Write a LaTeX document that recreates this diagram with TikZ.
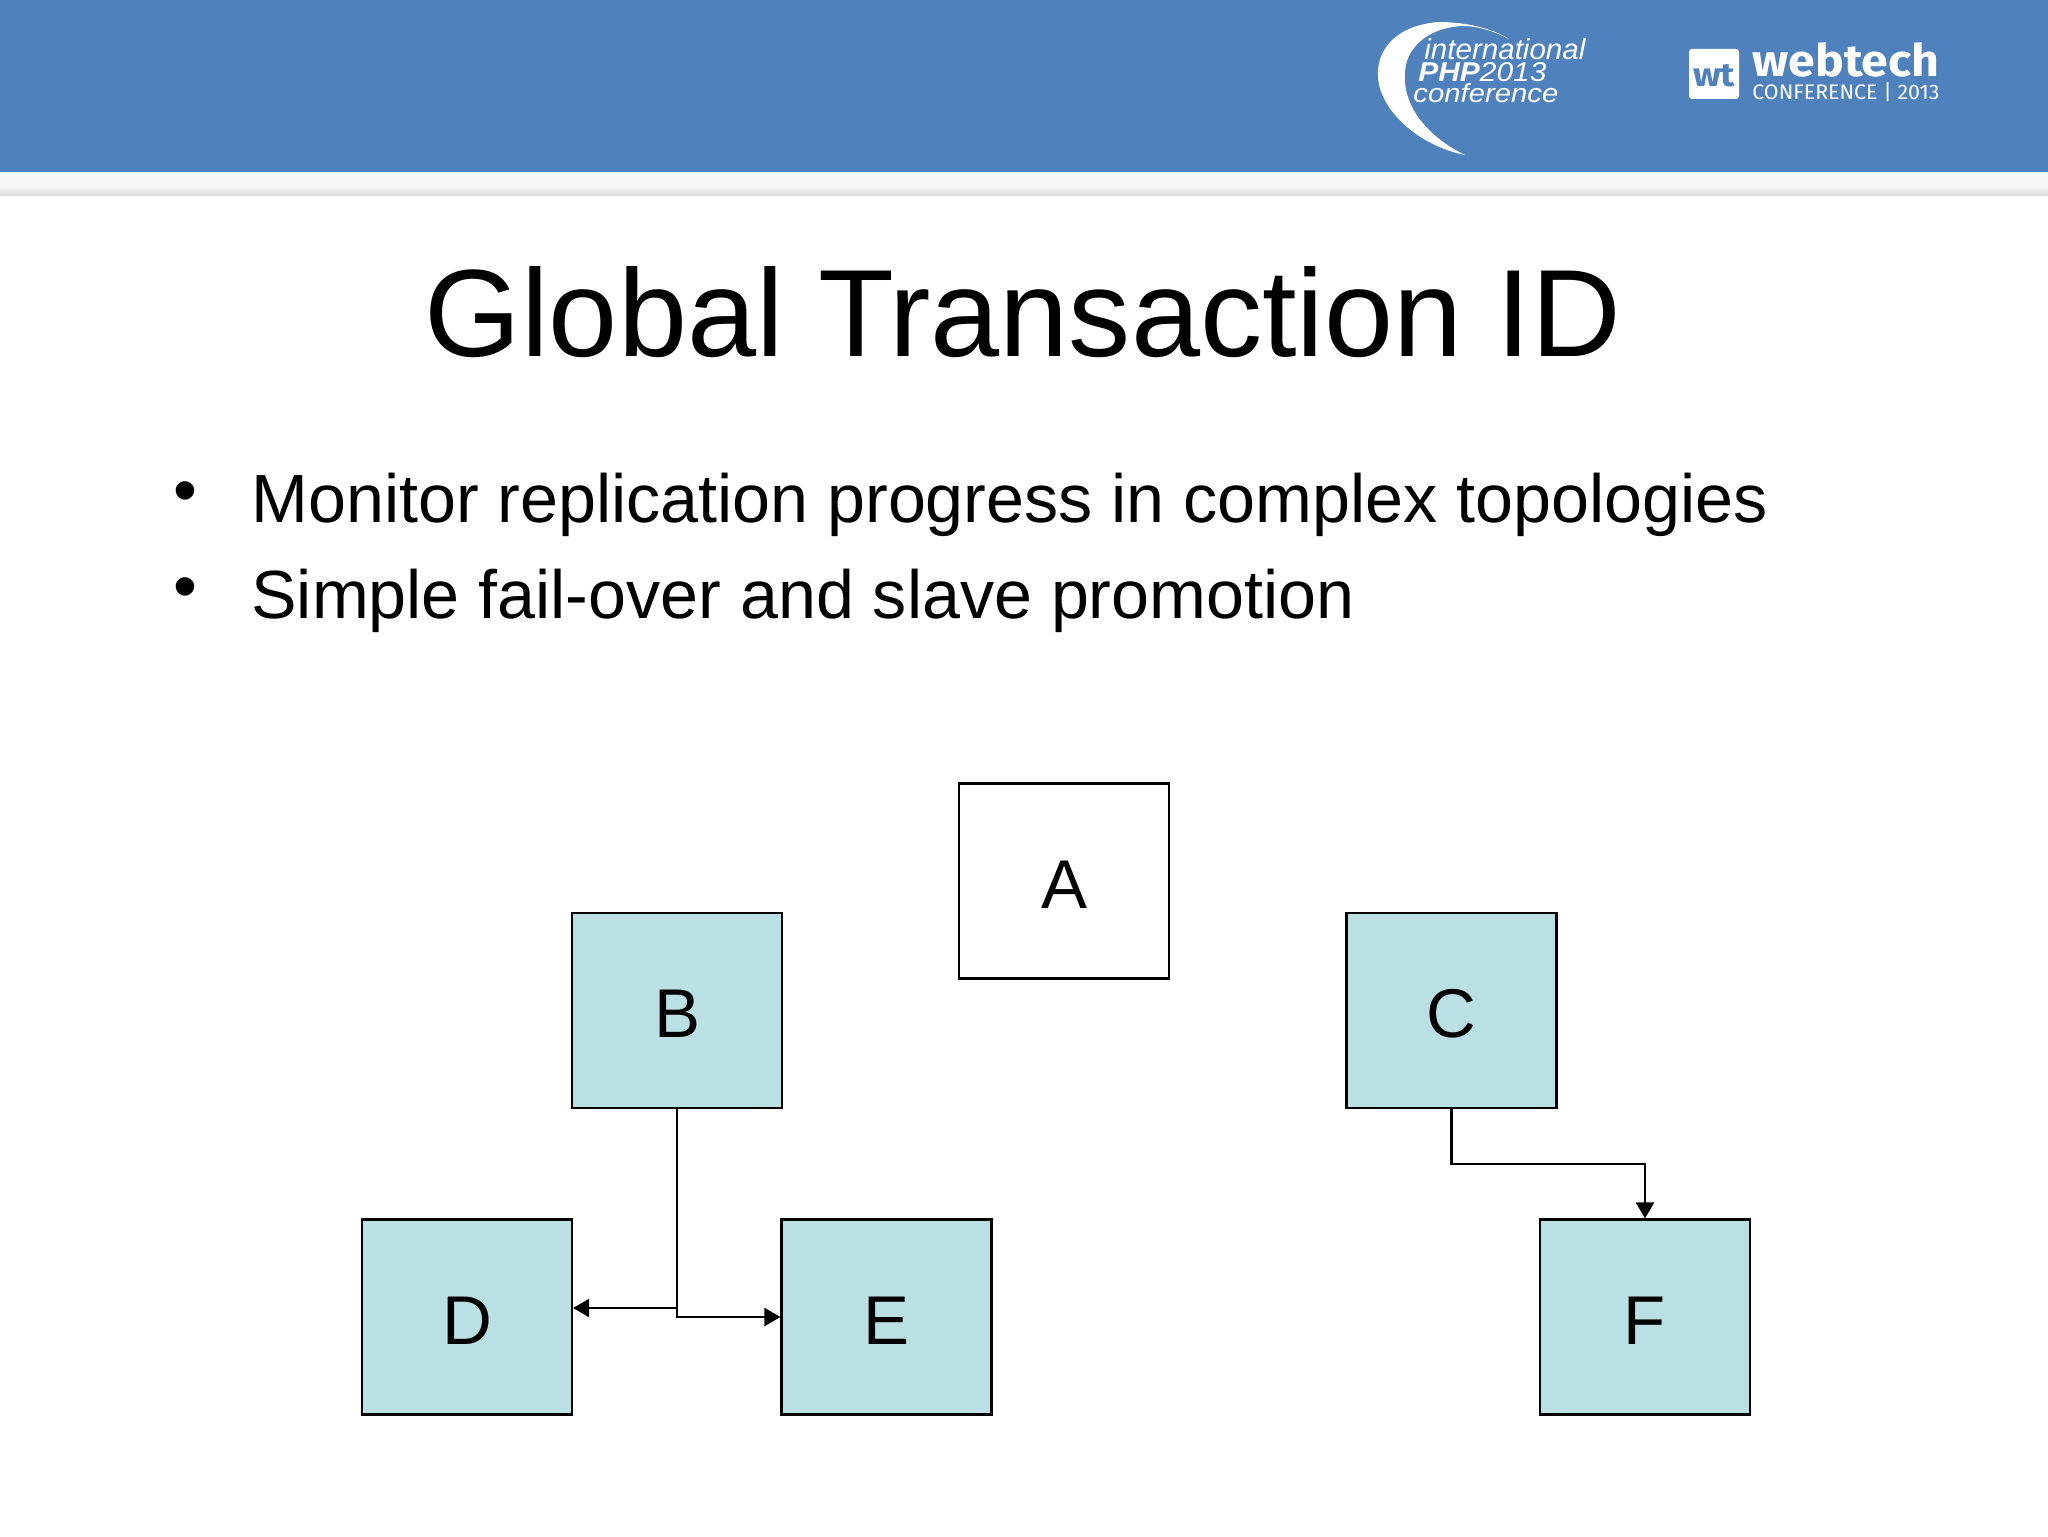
\documentclass[tikz,border=0pt]{standalone}
\usepackage{fontspec}
\setmainfont{Liberation Sans}
\newfontfamily\firafont{Fira Sans}
\usetikzlibrary{arrows.meta,calc}
\definecolor{bandblue}{HTML}{4F81BD}
\definecolor{boxteal}{HTML}{BBE0E3}
\tikzset{
    box/.style={draw=black,line width=1.05pt,fill=boxteal,minimum width=105pt,minimum height=97.5pt,
        inner sep=0pt,font=\fontsize{34.5}{34.5}\selectfont,text height=27pt,text depth=0pt},
    link/.style={line width=1.05pt,-{Triangle[length=8pt,width=9pt]}},
    logotext/.style={text=white,inner sep=0pt,anchor=base west},
    bullettext/.style={inner sep=0pt,anchor=base west,font=\fontsize{34.1}{34.1}\selectfont},
}
\begin{document}
\begin{tikzpicture}[x=0.5pt,y=-0.5pt]
    \useasboundingbox (0,0) rectangle (2048,1536);
    \fill[white] (0,0) rectangle (2048,1536);
    % header band
    \fill[white!97!black] (0,172) rectangle (2048,186);
    \shade[top color=white!97!black,bottom color=white!87!black] (0,186) rectangle (2048,195);
    \fill[bandblue] (0,0) rectangle (2048,172);
    % php logo
    \fill[white] (1509,39) .. controls (1495,30) and (1470,22) .. (1438,22)
        .. controls (1395,26) and (1376,50) .. (1378,78)
        .. controls (1381,112) and (1420,146) .. (1465,155)
        .. controls (1430,138) and (1402,108) .. (1405,72)
        .. controls (1406,50) and (1425,28) .. (1462,26)
        .. controls (1480,26) and (1495,32) .. (1509,39) -- cycle;
    \node[logotext] (intl) at (1424,60) {\resizebox{80.5pt}{10.5pt}{\itshape international}};
    \node[logotext] (php) at (1418,82) {\resizebox{64pt}{9.5pt}{\itshape\textbf{PHP}2013}};
    \node[logotext] (conf) at (1413,102) {\resizebox{72.5pt}{9.5pt}{\itshape conference}};
    % webtech logo
    \fill[white,rounded corners=1.5pt] (1689,49) rectangle (1739,99);
    \node[inner sep=0pt,text=bandblue] (wt) at (1714,76) {\resizebox{21pt}{11pt}{\firafont\bfseries wt}};
    \node[inner sep=0pt,anchor=north west,text=white] (webtech) at (1752,42) {\resizebox{93.5pt}{17pt}{\firafont\bfseries webtech}};
    \node[inner sep=0pt,anchor=north west,text=white] (conf2) at (1752,82) {\resizebox{93.5pt}{8.5pt}{\firafont CONFERENCE | 2013}};
    % text
    \node[inner sep=0pt,anchor=base,font=\fontsize{62.1}{62.1}\selectfont] (title) at (1023,356) {Global Transaction ID};
    \node[bullettext] (bulletA) at (173,513) {•};
    \node[bullettext] (bulletB) at (173,609) {•};
    \node[bullettext] (itemA) at (251,522) {Monitor replication progress in complex topologies};
    \node[bullettext] (itemB) at (251,618) {Simple fail-over and slave promotion};
    % boxes
    \node[box,fill=white] (A) at (1064,881) {A};
    \node[box] (B) at (677,1010.5) {B};
    \node[box] (C) at (1451.5,1010.5) {C};
    \node[box] (D) at (467,1317) {D};
    \node[box] (E) at (886.5,1317) {E};
    \node[box] (F) at (1645,1317) {F};
    % connectors
    \draw[link] (B.south) |- ([yshift=4.5pt]D.east);
    \draw[link] (B.south) |- (E.west);
    \coordinate (bend) at ($(C.south)!0.5!(F.north)$);
    \draw[link] (C.south) |- (bend) -| (F.north);
\end{tikzpicture}
\end{document}
